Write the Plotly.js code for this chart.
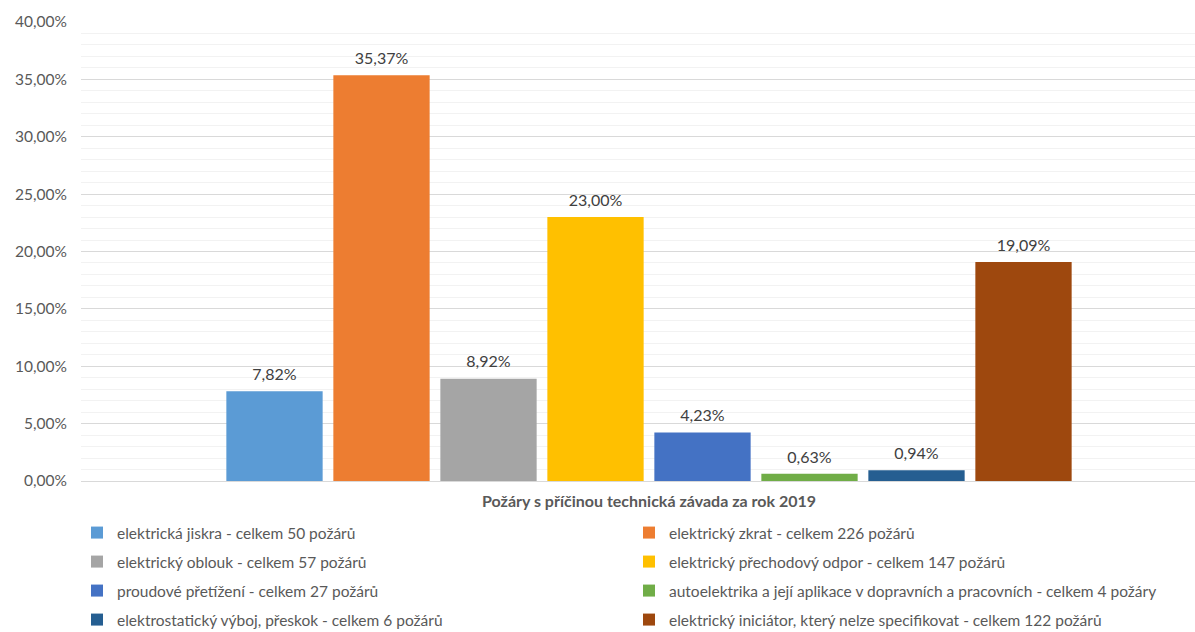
<!DOCTYPE html>
<html>
<head>
<meta charset="utf-8">
<script src="https://cdn.plot.ly/plotly-3.0.1.min.js"></script>
<style>html,body{margin:0;padding:0;background:#fff;overflow:hidden}</style>
</head>
<body>
<div id="chart" style="width:1195px;height:632px"></div>
<script>
const category = 'Požáry s příčinou technická závada za rok 2019';
const seriesNames = [
  'elektrická jiskra - celkem 50 požárů',
  'elektrický zkrat - celkem 226 požárů',
  'elektrický oblouk - celkem 57 požárů',
  'elektrický přechodový odpor - celkem 147 požárů',
  'proudové přetížení - celkem 27 požárů',
  'autoelektrika a její aplikace v dopravních a pracovních - celkem 4 požáry',
  'elektrostatický výboj, přeskok - celkem 6 požárů',
  'elektrický iniciátor, který nelze specifikovat - celkem 122 požárů'
];
const seriesValues = [0.0782, 0.3537, 0.0892, 0.2300, 0.0423, 0.0063, 0.0094, 0.1909];
const seriesColors = ['#5B9BD5', '#ED7D31', '#A5A5A5', '#FFC000', '#4472C4', '#70AD47', '#255E91', '#9E480E'];

(function () {
const FONT = 'Lato, "Open Sans", sans-serif';
const W = 1195, H = 632;
const legendIds = seriesNames.map((n, i) => i === 0 ? 'legend' : 'legend' + (i + 1));

const barTraces = seriesNames.map((n, i) => ({
  type: 'bar',
  name: n,
  x: [category],
  y: [seriesValues[i]],
  marker: {color: seriesColors[i]},
  legend: legendIds[i],
  hoverinfo: 'name+y'
}));

const labelTraces = seriesNames.map((n, i) => ({
  type: 'scatter',
  mode: 'markers+text',
  name: n,
  x: [category],
  y: [seriesValues[i]],
  texttemplate: '%{y:.2%}',
  textposition: 'top center',
  textfont: {family: FONT, size: 16, color: '#404040'},
  marker: {size: 10, opacity: 0},
  cliponaxis: false,
  showlegend: false,
  hoverinfo: 'skip'
}));

const pL = 81, pR = 1195, pT = 22, pB = 481;
const plotW = pR - pL, plotH = pB - pT;
const groupCenter = 649;
const r0 = -(groupCenter - pL) / plotW;
const gap = 1 - 856 / plotW;

const layout = {
  width: W, height: H,
  separators: ',.',
  font: {family: FONT, size: 15, color: '#595959'},
  paper_bgcolor: '#fff', plot_bgcolor: '#fff',
  margin: {l: pL, r: W - pR, t: pT, b: H - pB, pad: 0, autoexpand: false},
  barmode: 'group',
  bargap: gap,
  bargroupgap: 0.1,
  scattermode: 'group',
  scattergap: gap,
  showlegend: true,
  xaxis: {
    type: 'category',
    range: [r0, r0 + 1],
    showticklabels: false,
    showgrid: false, zeroline: false, showline: false, ticks: ''
  },
  yaxis: {
    range: [0, 0.4],
    dtick: 0.05,
    tickformat: '.2%',
    tickfont: {family: FONT, size: 15.5, color: '#595959'},
    gridcolor: '#d9d9d9', gridwidth: 1,
    zeroline: true, zerolinecolor: '#d9d9d9', zerolinewidth: 1,
    showline: false, ticks: '',
    ticklabelstandoff: 13,
    minor: {dtick: 0.01, showgrid: true, gridcolor: '#f2f2f2', gridwidth: 1}
  },
  annotations: [{
    text: '<b>' + category + '</b>',
    xref: 'x', yref: 'paper', x: category, y: 0,
    yshift: -31, showarrow: false,
    font: {family: FONT, size: 16, color: '#595959'}
  }]
};

const colX = [77, 629];
const rowY = [533, 562, 591, 620];
legendIds.forEach((id, i) => {
  layout[id] = {
    x: (colX[i % 2] - pL) / plotW, xanchor: 'left',
    y: (pB - rowY[Math.floor(i / 2)]) / plotH, yanchor: 'middle',
    font: {family: FONT, size: 15.5, color: '#595959'},
    bgcolor: 'rgba(0,0,0,0)', borderwidth: 0
  };
});

Plotly.newPlot('chart', barTraces.concat(labelTraces), layout, {displayModeBar: false, staticPlot: true});
})();
</script>
</body>
</html>
